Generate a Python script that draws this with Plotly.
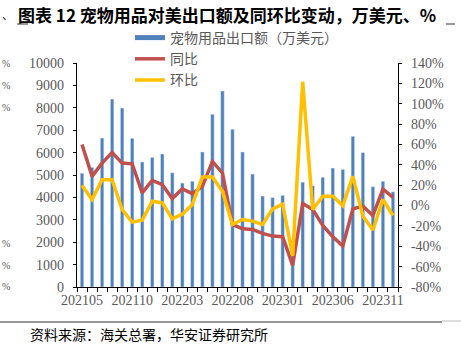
import plotly.graph_objects as go

months = ["202105","202106","202107","202108","202109","202110","202111","202112",
          "202201","202202","202203","202204","202205","202206","202207","202208",
          "202209","202210","202211","202212","202301","202302","202303","202304",
          "202305","202306","202307","202308","202309","202310","202311","202312"]
export_val = [5080, 5340, 6650, 8390, 7990, 6640, 5580, 5790,
              5940, 5100, 4640, 4720, 6030, 7710, 8750, 7040,
              6030, 5040, 4060, 3990, 4090, 2080, 4680, 4520,
              4900, 5310, 5250, 6730, 6000, 4480, 4720, 4250]
yoy = [60.0, 28.7, 41.7, 52.0, 41.7, 41.0, 12.4, 24.7,
       20.5, 6.8, 16.3, 11.7, 18.9, 43.3, 32.0, -18.6,
       -22.8, -23.5, -27.4, -30.0, -30.6, -58.7, 2.0, -3.9,
       -19.6, -30.6, -39.8, -3.3, -0.6, -9.8, 16.0, 8.0]
mom = [19.6, 5.9, 25.4, 25.4, -3.9, -16.3, -14.3, 4.2,
       2.6, -13.0, -8.5, 1.0, 28.0, 28.0, 14.0, -18.6,
       -13.7, -15.3, -18.6, -3.3, 1.3, -49.5, 121.6, -3.9,
       9.1, 9.1, 0.0, 28.7, -10.5, -24.0, 5.9, -9.8]
tick_labels = [m if i % 5 == 0 else "" for i, m in enumerate(months)]
left_ticks = list(range(0, 10001, 1000))
right_ticks = list(range(-80, 141, 20))

BLUE = "#4F81BD"
RED = "#C0504D"
YEL = "#FFC000"
GREY = "#595959"
SERIF = "Liberation Serif, Times New Roman, serif"
CJK = "Noto Sans CJK SC"

fig = go.Figure()
fig.add_trace(go.Bar(x=months, y=export_val, marker_color=BLUE, width=0.35,
                     showlegend=False, yaxis="y"))
fig.add_trace(go.Scatter(x=[None], y=[None], mode="lines", name="宠物用品出口额（万美元）",
                         line=dict(color=BLUE, width=5), legendgroup="a"))
fig.add_trace(go.Scatter(x=months, y=yoy, mode="lines", name="同比",
                         line=dict(color=RED, width=3.5), yaxis="y2", legendgroup="b"))
fig.add_trace(go.Scatter(x=months, y=mom, mode="lines", name="环比",
                         line=dict(color=YEL, width=3.5), yaxis="y2", legendgroup="c"))

fig.update_layout(
    width=461, height=344,
    margin=dict(l=77, r=63, t=63, b=57),
    paper_bgcolor="white", plot_bgcolor="white",
    bargap=0.65,
    xaxis=dict(type="category", range=[-0.5, 31.5], tickvals=months, ticktext=tick_labels,
               tickangle=0,
               showline=True, linecolor="black", linewidth=1.2, ticks="outside", ticklen=4,
               tickcolor="black", tickson="boundaries", showgrid=False,
               tickfont=dict(family=SERIF, size=14, color=GREY)),
    yaxis=dict(range=[0, 10000], tickvals=left_ticks, ticktext=[str(v) for v in left_ticks],
               showline=True, linecolor="black",
               linewidth=1.2, ticks="outside", ticklen=3, tickcolor="black", showgrid=False,
               zeroline=False, ticklabelstandoff=6,
               tickfont=dict(family=SERIF, size=14, color=GREY)),
    yaxis2=dict(range=[-80, 140], tickvals=right_ticks, ticktext=[f"{v}%" for v in right_ticks],
                overlaying="y", side="right", showline=True, linecolor="black", linewidth=1.2,
                ticks="outside", ticklen=3, tickcolor="black", showgrid=False, zeroline=False,
                ticklabelstandoff=6,
                tickfont=dict(family=SERIF, size=14, color=GREY)),
    legend=dict(x=0.165, y=1.183, xanchor="left", yanchor="top", bgcolor="rgba(0,0,0,0)",
                font=dict(family=CJK, size=14, color=GREY), traceorder="grouped",
                tracegroupgap=0, itemwidth=30),
    font=dict(family=CJK),
)

fig.add_annotation(text="<b>图表 12 宠物用品对美出口额及同环比变动，万美元、%</b>",
                   xref="paper", yref="paper", x=(227 - 77) / 321, y=1 + (63 - 14) / 224,
                   xanchor="center", yanchor="middle", showarrow=False,
                   font=dict(family=CJK, size=17, color="black"))
fig.add_annotation(text="资料来源：海关总署，华安证券研究所",
                   xref="paper", yref="paper", x=(28 - 77) / 321, y=-(334 - 287) / 224,
                   xanchor="left", yanchor="middle", showarrow=False,
                   font=dict(family=CJK, size=14, color="black"))
# remnants of a neighbouring chart's labels at the left edge
for yy in [63, 85, 107, 243, 265, 286]:
    fig.add_annotation(text="%", xref="paper", yref="paper", x=(0 - 77) / 321,
                       y=1 - (yy - 63) / 224, xanchor="left", yanchor="middle",
                       showarrow=False, font=dict(family=SERIF, size=10, color=GREY))
fig.add_annotation(text="、", xref="paper", yref="paper", x=(0 - 77) / 321,
                   y=1 + (63 - 14) / 224, xanchor="left", yanchor="middle",
                   showarrow=False, font=dict(family=CJK, size=11, color="black"))

# decorative rules
fig.add_shape(type="line", xref="paper", yref="paper", x0=-77 / 321, x1=(442 - 77) / 321,
              y0=-(322 - 287) / 224, y1=-(322 - 287) / 224, line=dict(color="#333333", width=1.2))
fig.add_shape(type="line", xref="paper", yref="paper", x0=(442 - 77) / 321, x1=(461 - 77) / 321,
              y0=-(321 - 287) / 224, y1=-(321 - 287) / 224, line=dict(color="#bbbbbb", width=1))
fig.add_shape(type="line", xref="paper", yref="paper", x0=(17 - 77) / 321, x1=(28 - 77) / 321,
              y0=1 + (63 - 24) / 224, y1=1 + (63 - 24) / 224, line=dict(color="#333333", width=1))
fig.add_shape(type="line", xref="paper", yref="paper", x0=(446 - 77) / 321, x1=(455 - 77) / 321,
              y0=1 + (63 - 24) / 224, y1=1 + (63 - 24) / 224, line=dict(color="#333333", width=1))

fig.write_html("out.html")
